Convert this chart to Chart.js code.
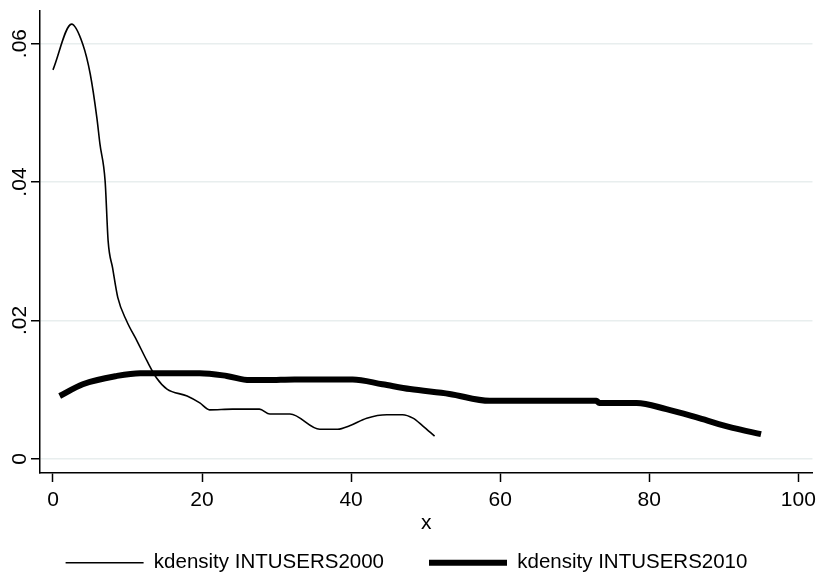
<!DOCTYPE html>
<html lang="en">
<head>
  <meta charset="UTF-8" />
  <title>kdensity INTUSERS</title>
  <script src="https://cdn.jsdelivr.net/npm/chart.js"></script>
  <style>
    body { margin: 0; background: #fff; }
    #wrap { width: 822px; height: 576px; }
  </style>
</head>
<body>
  <div id="wrap"><canvas id="kd"></canvas></div>
  <script>
    // values
    const x2000 = [0, 2.5, 4.0, 5.0, 5.9, 6.3, 7.0, 7.4, 8.0, 8.7, 9.9, 11.3, 12.6, 13.9, 15.3, 18.0, 19.7, 21.0, 24.1, 27.7, 29.1, 31.8, 35.8, 38.2, 39.8, 42.1, 44.8, 46.9, 48.3, 49.6, 51.2];
    const y2000 = [0.0562, 0.0628, 0.0599, 0.0556, 0.0492, 0.0455, 0.0401, 0.0315, 0.0276, 0.0233, 0.0199, 0.0170, 0.0142, 0.0117, 0.0101, 0.0091, 0.0081, 0.0071, 0.0072, 0.0072, 0.0065, 0.0065, 0.0043, 0.0043, 0.0048, 0.0059, 0.0064, 0.0064, 0.0059, 0.0048, 0.0033];
    const x2010 = [0.9, 4.0, 8.6, 11.7, 19.7, 23.3, 26.4, 28.7, 32.4, 40.2, 44.2, 47.9, 53.2, 58.6, 72.9, 73.3, 78.3, 82.3, 86.7, 91.2, 95.0];
    const y2010 = [0.0091, 0.0108, 0.0120, 0.0124, 0.0124, 0.0120, 0.0114, 0.0114, 0.0115, 0.0115, 0.0108, 0.0101, 0.0094, 0.0084, 0.0084, 0.0081, 0.0081, 0.0072, 0.0059, 0.0045, 0.0036];
    const seriesNames = ['kdensity INTUSERS2000', 'kdensity INTUSERS2010'];
    const xTicks = [0, 20, 40, 60, 80, 100];
    const yTicks = [0, 0.02, 0.04, 0.06];
    const yTickLabels = ['0', '.02', '.04', '.06'];
    const xTitle = 'x';

    const font = "'Liberation Sans', Arial, sans-serif";
    const toPts = (xs, ys) => xs.map((x, i) => ({ x, y: ys[i] }));

    new Chart(document.getElementById('kd'), {
      type: 'scatter',
      data: {
        datasets: [
          { label: seriesNames[0], data: toPts(x2000, y2000), showLine: true, borderColor: '#000', backgroundColor: '#000',
            borderWidth: 1.6, pointRadius: 0, cubicInterpolationMode: 'monotone' },
          { label: seriesNames[1], data: toPts(x2010, y2010), showLine: true, borderColor: '#000', backgroundColor: '#000',
            borderWidth: 6, pointRadius: 0, cubicInterpolationMode: 'monotone' }
        ]
      },
      options: {
        responsive: true,
        maintainAspectRatio: false,
        animation: false,
        layout: { padding: { top: 11, right: 9, left: 0, bottom: -7 } },
        plugins: {
          tooltip: { enabled: false },
          legend: {
            position: 'bottom',
            labels: {
              usePointStyle: true, pointStyle: 'line', pointStyleWidth: 78,
              boxWidth: 78, boxHeight: 8, padding: 45,
              color: '#000', font: { family: font, size: 20.5 }
            }
          }
        },
        scales: {
          x: {
            type: 'linear', min: -1.74, max: 101.9,
            afterBuildTicks: ax => { ax.ticks = xTicks.map(v => ({ value: v })); },
            grid: { drawOnChartArea: false, tickColor: '#000', tickLength: 9, tickWidth: 1.5 },
            border: { color: '#000', width: 1.5 },
            ticks: { color: '#000', font: { family: font, size: 21 }, maxRotation: 0, padding: 6 },
            title: { display: true, text: xTitle, color: '#000', font: { family: font, size: 21 }, padding: { top: -8.8, bottom: -28.1 } }
          },
          y: {
            type: 'linear', min: -0.00202, max: 0.0647,
            afterBuildTicks: ax => { ax.ticks = yTicks.map(v => ({ value: v })); },
            afterFit: ax => { ax.width = 40; },
            grid: { color: '#e8eeee', lineWidth: 1.5, tickColor: '#000', tickLength: 9, tickWidth: 1.5 },
            border: { color: '#000', width: 1.5 },
            ticks: {
              color: '#000', font: { family: font, size: 21 }, minRotation: 90, maxRotation: 90,
              padding: -3.6, crossAlign: 'center',
              callback: v => { const i = yTicks.findIndex(t => Math.abs(t - v) < 1e-9); return i >= 0 ? yTickLabels[i] : ''; }
            }
          }
        }
      }
    });
  </script>
</body>
</html>
